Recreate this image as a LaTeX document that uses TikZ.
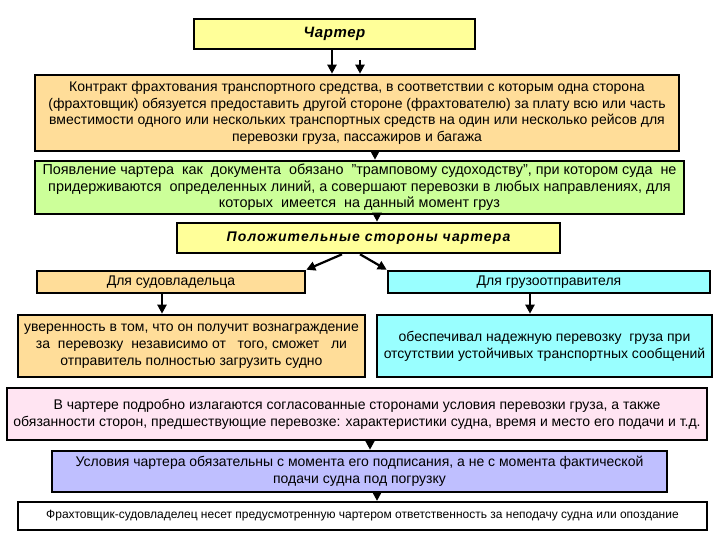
\documentclass[tikz,border=0pt]{standalone}
\usepackage{fontspec}
\setmainfont{Liberation Sans}
\usetikzlibrary{arrows.meta}
\tikzset{
  box/.style={draw=black, line width=2.6pt, inner sep=0pt, align=center, font=\fontsize{14}{16.7}\selectfont},
  arr/.style={line width=2.2pt, -{Triangle[length=9pt,width=9pt]}},
}
\definecolor{cyel}{HTML}{FFFF99}
\definecolor{corg}{HTML}{FFDD99}
\definecolor{cgrn}{HTML}{CCFF99}
\definecolor{ccyn}{HTML}{99FFFF}
\definecolor{cpnk}{HTML}{FFE4F2}
\definecolor{clav}{HTML}{BFBFFF}
\begin{document}
\begin{tikzpicture}[x=1pt,y=-1pt]
\useasboundingbox (0,0) rectangle (720,540);
\node[box, fill=cyel, minimum width=281pt, minimum height=30pt, font=\fontsize{15}{17}\selectfont\bfseries\itshape\addfontfeature{LetterSpace=4}] (b1) at (334.5,34) {Чартер};
\node[box, fill=corg, minimum width=644pt, minimum height=76pt] (b2) at (357,113) {Контракт фрахтования транспортного средства, в соответствии с которым одна сторона\\(фрахтовщик) обязуется предоставить другой стороне (фрахтователю) за плату всю или часть\\вместимости одного или нескольких транспортных средств на один или несколько рейсов для\\перевозки груза, пассажиров и багажа};
\node[box, fill=cgrn, minimum width=649pt, minimum height=53pt, font=\fontsize{14.4}{16.7}\selectfont] (b3) at (359.5,187.5) {Появление чартера\ \ как\ \ документа\ \ обязано\ \ "трамповому судоходству", при котором суда\ \ не\\придерживаются\ \ определенных линий, а совершают перевозки в любых направлениях, для\\которых\ \ имеется\ \ на данный момент груз};
\node[box, fill=cyel, minimum width=383pt, minimum height=30pt, font=\fontsize{14}{16}\selectfont\bfseries\itshape\addfontfeature{LetterSpace=8}] (b4) at (368.5,238) {Положительные стороны чартера};
\node[box, fill=corg, minimum width=268pt, minimum height=22pt] (b5) at (171,282) {Для судовладельца};
\node[box, fill=ccyn, minimum width=322pt, minimum height=22pt] (b6) at (549,282) {Для грузоотправителя};
\node[box, fill=corg, minimum width=347pt, minimum height=62pt] (b7) at (191.5,346) {уверенность в том, что он получит вознаграждение\\за\ \ перевозку\ \ независимо от\ \ \ того, сможет\ \ \ ли\\отправитель полностью загрузить судно};
\node[box, fill=ccyn, minimum width=335pt, minimum height=62pt] (b8) at (544.5,346) {обеспечивал надежную перевозку\ \ груза при\\отсутствии устойчивых транспортных сообщений};
\node[box, fill=cpnk, minimum width=700pt, minimum height=52pt] (b9) at (357,414) {В чартере подробно излагаются согласованные сторонами условия перевозки груза, а также\\обязанности сторон, предшествующие перевозке: характеристики судна, время и место его подачи и т.д.};
\node[box, fill=clav, minimum width=615pt, minimum height=41pt] (b10) at (359.5,471.5) {Условия чартера обязательны с момента его подписания, а не с момента фактической\\подачи судна под погрузку};
\node[box, fill=white, line width=2.2pt, minimum width=689pt, minimum height=28pt, font=\fontsize{12}{14}\selectfont] (b11) at (362.5,516) {Фрахтовщик-судовладелец несет предусмотренную чартером ответственность за неподачу судна или опоздание};
\coordinate (x1) at (332,0);
\coordinate (s2) at (360,60);
\coordinate (x3) at (375,0);
\coordinate (x4) at (377,0);
\coordinate (x5) at (342,0);
\coordinate (x6) at (360,0);
\coordinate (x7) at (162,0);
\coordinate (x8) at (530,0);
\coordinate (x9) at (370,0);
\coordinate (x10) at (377,0);
\draw[arr] (x1 |- b1.south) -- (x1 |- b2.north);
\draw[arr] (s2) -- (s2 |- b2.north);
\draw[arr] (x3 |- b2.south) -- (x3 |- b3.north);
\draw[arr] (x4 |- b3.south) -- (x4 |- b4.north);
\draw[arr] (x5 |- b4.south) -- (b5.north east);
\draw[arr] (x6 |- b4.south) -- (b6.north west);
\draw[arr] (x7 |- b5.south) -- (x7 |- b7.north);
\draw[arr] (x8 |- b6.south) -- (x8 |- b8.north);
\draw[arr] (x9 |- b9.south) -- (x9 |- b10.north);
\draw[arr] (x10 |- b10.south) -- (x10 |- b11.north);
\end{tikzpicture}
\end{document}
